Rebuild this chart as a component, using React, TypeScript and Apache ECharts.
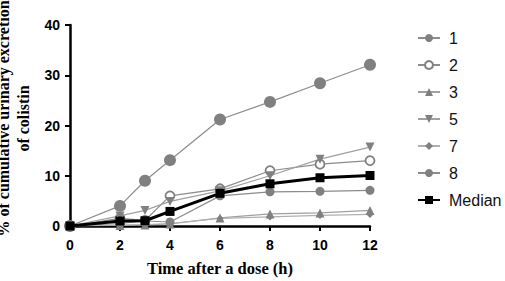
import React, { useEffect, useRef } from "react";
import * as echarts from "echarts";

const hours = [0, 2, 3, 4, 6, 8, 10, 12];
const s1 = [0, 0.5, 1.0, 0.8, 6.0, 6.8, 6.9, 7.1];
const s2 = [0, 1.5, 1.1, 6.0, 7.4, 11.0, 12.3, 13.0];
const s3 = [0, 0.1, 0.2, 0.4, 1.6, 2.4, 2.6, 3.1];
const s5 = [0, 2.0, 3.1, 4.9, 7.0, 10.0, 13.3, 15.7];
const s7 = [0, 0.2, 0.3, 0.5, 1.5, 1.8, 2.1, 2.3];
const s8 = [0, 4.0, 9.0, 13.1, 21.2, 24.7, 28.4, 32.1];
const median = [0, 1.0, 1.05, 2.9, 6.5, 8.4, 9.6, 10.05];
const yTicks = [0, 10, 20, 30, 40];
const xTicks = [0, 2, 4, 6, 8, 10, 12];

const GRAY = "#808080";

export default function App() {
  const ref = useRef<HTMLDivElement>(null);
  useEffect(() => {
    const chart = echarts.init(ref.current!, null, { renderer: "svg" });
    const pts = (v: number[]) => hours.map((h, i) => [h, v[i]]);
    const grey = (
      name: string,
      v: number[],
      symbol: string,
      size: number,
      open = false,
      lineColor = "#8c8c8c"
    ) => ({
      name,
      type: "line",
      data: pts(v),
      symbol,
      symbolSize: size,
      showSymbol: true,
      lineStyle: { color: lineColor, width: 1.2 },
      itemStyle: open
        ? { color: "#ffffff", borderColor: GRAY, borderWidth: 1.8 }
        : { color: GRAY, borderWidth: 0 },
      z: 2,
    });
    chart.setOption({
      animation: false,
      backgroundColor: "#ffffff",
      grid: { left: 70, right: 135, top: 25, bottom: 55, outerBoundsMode: "none", containLabel: false },
      legend: {
        orient: "vertical",
        left: 412,
        top: 24,
        itemGap: 9,
        itemWidth: 22,
        itemHeight: 10,
        textStyle: {
          fontFamily: "Liberation Sans, Arial",
          fontSize: 16,
          color: "#111",
          padding: [0, 0, 0, 4],
          lineHeight: 18,
        },
        data: ["1", "2", "3", "5", "7", "8", "Median"],
      },
      xAxis: {
        type: "value",
        min: 0,
        max: 12,
        interval: 2,
        name: "Time after a dose (h)",
        nameLocation: "middle",
        nameGap: 34,
        nameTextStyle: {
          fontFamily: "Liberation Serif, Times New Roman, serif",
          fontWeight: "bold",
          fontSize: 16.5,
          color: "#000",
        },
        axisLine: { lineStyle: { color: "#000", width: 2.5 } },
        axisTick: { show: true, length: 5, lineStyle: { color: "#000", width: 2 } },
        axisLabel: {
          fontFamily: "Liberation Sans, Arial",
          fontWeight: "bold",
          fontSize: 14,
          color: "#000",
          margin: 12,
          customValues: xTicks,
        },
        splitLine: { show: false },
      },
      yAxis: {
        type: "value",
        min: 0,
        max: 40,
        interval: 10,
        name: "% of cumulative urinary excretion\nof colistin",
        nameLocation: "middle",
        nameGap: 31,
        nameTextStyle: {
          fontFamily: "Liberation Serif, Times New Roman, serif",
          fontWeight: "bold",
          fontSize: 16,
          lineHeight: 20,
          color: "#000",
          padding: [0, 0, 0, 14],
        },
        axisLine: { show: true, lineStyle: { color: "#000", width: 2.5 } },
        axisTick: { show: true, length: 5, lineStyle: { color: "#000", width: 2 } },
        axisLabel: {
          fontFamily: "Liberation Sans, Arial",
          fontWeight: "bold",
          fontSize: 14,
          color: "#000",
          margin: 10,
          customValues: yTicks,
        },
        splitLine: { show: false },
      },
      series: [
        grey("1", s1, "circle", 9),
        grey("2", s2, "circle", 9, true),
        grey("3", s3, "triangle", 9, false, "#a0a0a0"),
        grey("5", s5, "path://M0,0 L10,0 L5,9 Z", 9, false, "#a0a0a0"),
        grey("7", s7, "diamond", 7, false, "#b0b0b0"),
        grey("8", s8, "circle", 12),
        {
          name: "Median",
          type: "line",
          data: pts(median),
          symbol: "rect",
          symbolSize: 9,
          lineStyle: { color: "#000", width: 3 },
          itemStyle: { color: "#000" },
          z: 5,
        },
      ],
    });
    return () => chart.dispose();
  }, []);
  return (
    <div
      ref={ref}
      style={{ position: "absolute", left: 0, top: 0, width: 505, height: 281 }}
    />
  );
}
